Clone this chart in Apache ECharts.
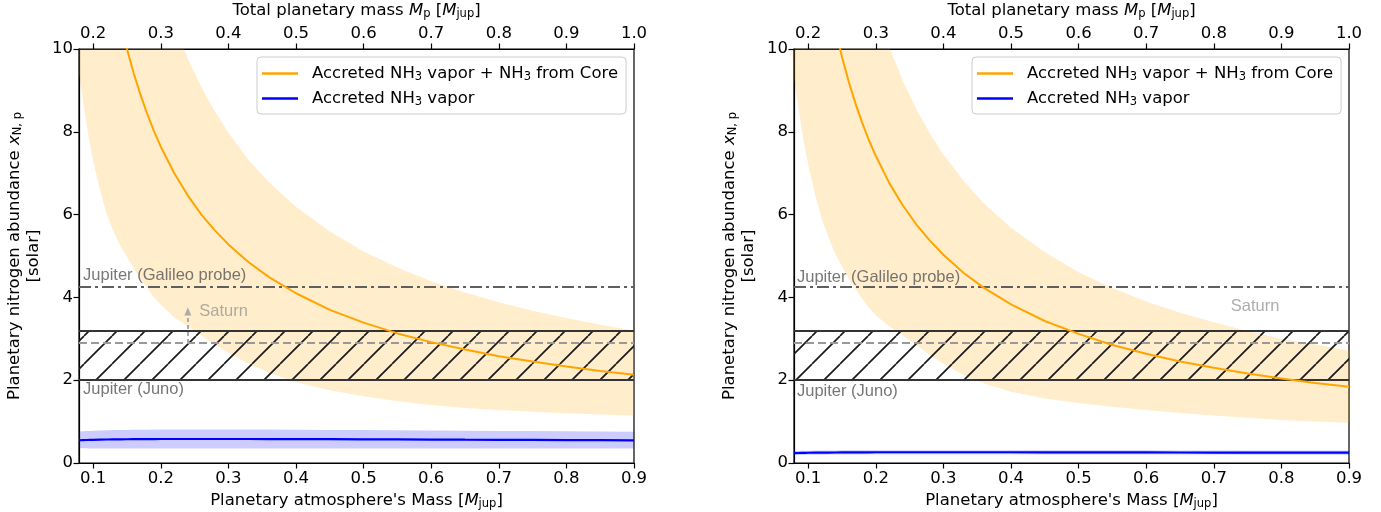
<!DOCTYPE html>
<html><head><meta charset="utf-8">
<script src="https://cdn.jsdelivr.net/npm/echarts@6/dist/echarts.min.js"></script>
<style>html,body{margin:0;padding:0;background:#fff}#c{width:1381px;height:512px}</style>
</head><body><div id="c"></div>
<script>
// ---------------- data ----------------
const xs = [0.079,0.085,0.09,0.095,0.1,0.11,0.12,0.13,0.14,0.15,0.16,0.17,0.18,0.19,0.2,0.22,0.24,0.26,0.28,0.3,0.33,0.36,0.4,0.45,0.5,0.55,0.6,0.65,0.7,0.75,0.8,0.85,0.9];
const xTicksBottom = [0.1,0.2,0.3,0.4,0.5,0.6,0.7,0.8,0.9];
const xTicksTop = [0.2,0.3,0.4,0.5,0.6,0.7,0.8,0.9,1.0];
const yTicks = [0,2,4,6,8,10];

// left panel
const leftCore      = [18.5,17.2,16.3,15.5,14.7,13.4,12.4,11.5,10.7,10.0,9.41,8.89,8.43,8.01,7.64,7.0,6.46,6.0,5.62,5.28,4.85,4.49,4.1,3.7,3.39,3.13,2.92,2.74,2.58,2.45,2.33,2.22,2.13];
const leftCoreUpper = [28.0,26.1,24.7,23.4,22.3,20.4,18.7,17.35,16.2,15.1,14.25,13.46,12.75,12.1,11.56,10.58,9.77,9.08,8.49,7.98,7.32,6.78,6.19,5.59,5.11,4.72,4.39,4.12,3.88,3.68,3.5,3.34,3.2];
const leftCoreLower = [9.4,8.75,8.2,7.72,7.3,6.6,6.0,5.6,5.25,4.98,4.7,4.45,4.22,4.0,3.82,3.52,3.3,3.08,2.86,2.66,2.4,2.18,1.95,1.76,1.61,1.49,1.4,1.33,1.28,1.24,1.2,1.17,1.15];
const leftVap       = [0.55,0.553,0.555,0.558,0.56,0.565,0.568,0.57,0.572,0.574,0.576,0.577,0.578,0.579,0.58,0.58,0.58,0.58,0.58,0.58,0.58,0.579,0.578,0.575,0.572,0.57,0.567,0.563,0.56,0.557,0.554,0.551,0.548];
const leftVapUpper  = [0.76,0.765,0.77,0.775,0.78,0.785,0.79,0.795,0.8,0.8,0.802,0.804,0.806,0.808,0.81,0.81,0.81,0.81,0.81,0.81,0.81,0.808,0.805,0.8,0.795,0.79,0.785,0.78,0.775,0.77,0.765,0.76,0.755];
const leftVapLower  = [0.36,0.357,0.355,0.352,0.35,0.35,0.35,0.35,0.35,0.35,0.35,0.35,0.35,0.35,0.35,0.35,0.35,0.35,0.35,0.35,0.35,0.35,0.35,0.35,0.35,0.35,0.35,0.35,0.35,0.35,0.35,0.35,0.35];

// right panel
const rightCore      = [18.4,17.1,16.2,15.3,14.6,13.3,12.2,11.3,10.49,9.81,9.21,8.68,8.21,7.79,7.42,6.76,6.22,5.76,5.37,5.03,4.59,4.23,3.83,3.43,3.12,2.85,2.64,2.45,2.3,2.16,2.04,1.93,1.84];
const rightCoreUpper = [27.3,25.4,24.0,22.8,21.7,19.73,18.12,16.75,15.58,14.56,13.68,12.89,12.19,11.57,11.01,10.04,9.23,8.55,7.96,7.46,6.81,6.27,5.68,5.09,4.61,4.23,3.9,3.63,3.4,3.19,3.0,2.86,2.72];
const rightCoreLower = [9.3,8.65,8.1,7.62,7.2,6.5,5.9,5.45,5.05,4.75,4.45,4.2,3.97,3.75,3.57,3.3,3.08,2.85,2.6,2.4,2.12,1.92,1.72,1.56,1.45,1.36,1.28,1.21,1.15,1.09,1.04,1.0,0.97];
const rightVap       = [0.24,0.242,0.244,0.246,0.248,0.25,0.252,0.253,0.254,0.255,0.256,0.257,0.258,0.259,0.26,0.26,0.26,0.26,0.26,0.26,0.26,0.26,0.26,0.258,0.257,0.256,0.255,0.254,0.253,0.252,0.251,0.25,0.25];
const rightVapUpper  = [0.29,0.292,0.294,0.296,0.298,0.3,0.302,0.303,0.304,0.305,0.306,0.307,0.308,0.309,0.31,0.31,0.31,0.31,0.31,0.31,0.31,0.31,0.31,0.308,0.307,0.306,0.305,0.304,0.303,0.302,0.301,0.3,0.3];
const rightVapLower  = [0.19,0.192,0.194,0.196,0.198,0.2,0.202,0.203,0.204,0.205,0.206,0.207,0.208,0.209,0.21,0.21,0.21,0.21,0.21,0.21,0.21,0.21,0.21,0.208,0.207,0.206,0.205,0.204,0.203,0.202,0.201,0.2,0.2];

// reference levels
const galileoLevel = 4.25;
const junoLow = 2.0, junoHigh = 3.2;
const saturnLevel = 2.9;
const saturnArrow = [[0.24, 2.9], [0.24, 3.66]];

// annotations [x, y, text]
const leftNotes  = [[0.085, 4.53, 'Jupiter (Galileo probe)'], [0.085, 1.77, 'Jupiter (Juno)']];
const leftSaturn = [[0.257, 3.67, 'Saturn']];
const rightNotes = [[0.0834, 4.48, 'Jupiter (Galileo probe)'], [0.0834, 1.74, 'Jupiter (Juno)']];
const rightSaturn = [[0.725, 3.78, 'Saturn']];

const NAME_CORE = 'Accreted NH3 vapor + NH3 from Core';
const NAME_VAP = 'Accreted NH3 vapor';

// ---------------- helpers ----------------
const FONT = 'DejaVu Sans';
const FS = 16.5;
const rich = {
  n: {fontSize: FS, fontFamily: FONT, color: '#000', lineHeight: 19},
  f: {fontSize: FS, fontFamily: FONT, color: '#000', lineHeight: 19, padding: [0, 0, 0, 9]},
  i: {fontSize: FS, fontFamily: FONT, fontStyle: 'italic', color: '#000', lineHeight: 19},
  s: {fontSize: 11.5, fontFamily: FONT, color: '#000', lineHeight: 11, verticalAlign: 'bottom'}
};

function makeHatch() {
  const s = 28, c = document.createElement('canvas');
  c.width = s; c.height = s;
  const g = c.getContext('2d');
  g.strokeStyle = '#1a1a1a'; g.lineWidth = 1.7;
  for (let k = -1; k <= 1; k++) {
    g.beginPath(); g.moveTo(k * s, s); g.lineTo(k * s + s, 0); g.stroke();
  }
  return c;
}
const hatch = {image: makeHatch(), repeat: 'repeat'};

const pts = arr => xs.map((x, i) => [x, arr[i]]);

function band(xi, yi, upper, lower, fill) {
  return {type: 'custom', xAxisIndex: xi, yAxisIndex: yi, silent: true, z: 1, animation: false,
    data: [[xs[0], lower[0]]],
    renderItem: (params, api) => {
      const poly = [];
      for (let i = 0; i < xs.length; i++) poly.push(api.coord([xs[i], upper[i]]));
      for (let i = xs.length - 1; i >= 0; i--) poly.push(api.coord([xs[i], lower[i]]));
      const cs = params.coordSys;
      return {type: 'group',
        clipPath: {type: 'rect', shape: {x: cs.x, y: cs.y, width: cs.width, height: cs.height}},
        children: [{type: 'polygon', shape: {points: poly}, style: {fill: fill, stroke: null}}]};
    }};
}

function panelSeries(p, d) {
  const xi = p * 2, yi = p;
  const base = {type: 'line', xAxisIndex: xi, yAxisIndex: yi, symbol: 'none', silent: true, animation: false};
  return [
    band(xi, yi, d.coreUpper, d.coreLower, 'rgba(255,165,0,0.2)'),
    band(xi, yi, d.vapUpper, d.vapLower, 'rgba(0,0,255,0.2)'),
    Object.assign({}, base, {name: NAME_CORE, data: pts(d.core), z: 6,
      color: '#FFA500', itemStyle: {color: '#FFA500'}, lineStyle: {color: '#FFA500', width: 2}}),
    Object.assign({}, base, {name: NAME_VAP, data: pts(d.vap), z: 6,
      color: '#0000FF', itemStyle: {color: '#0000FF'}, lineStyle: {color: '#0000FF', width: 2.2},
      markArea: {silent: true, z: 3, itemStyle: {color: hatch, borderWidth: 0},
        data: [[{yAxis: junoLow}, {yAxis: junoHigh}]]},
      markLine: {silent: true, symbol: ['none', 'none'], z: 4, label: {show: false}, animation: false,
        data: [
          {yAxis: junoLow, lineStyle: {color: '#333', width: 2, type: 'solid'}},
          {yAxis: junoHigh, lineStyle: {color: '#333', width: 2, type: 'solid'}},
          {yAxis: galileoLevel, lineStyle: {color: '#5f5f5f', width: 2.2, type: [12, 4, 3, 4]}},
          {yAxis: saturnLevel, lineStyle: {color: '#999', width: 2, type: [8, 4]}}
        ]}}),
    {type: 'scatter', xAxisIndex: xi, yAxisIndex: yi, symbolSize: 0, silent: true, z: 7, animation: false,
      data: d.notes, label: {show: true, position: 'right', distance: 0, formatter: q => q.value[2],
        fontFamily: 'Liberation Sans', fontSize: 16.5, color: '#555'}},
    {type: 'scatter', xAxisIndex: xi, yAxisIndex: yi, symbolSize: 0, silent: true, z: 7, animation: false,
      data: d.saturn, label: {show: true, position: 'right', distance: 0, formatter: q => q.value[2],
        fontFamily: 'Liberation Sans', fontSize: 16.5, color: '#999'},
      markLine: d.arrow ? {silent: true, symbol: ['none', 'triangle'], symbolSize: [7, 8], z: 5,
        label: {show: false}, animation: false,
        lineStyle: {color: '#aaa', width: 2, type: [4, 3]},
        data: [[{coord: d.arrow[0]}, {coord: d.arrow[1]}]]} : undefined}
  ];
}

const axisName = {
  bottom: "{n|Planetary atmosphere's Mass [}{i|M}{s|jup}{n|]}",
  top: '{n|Total planetary mass }{i|M}{s|p}{n| [}{i|M}{s|jup}{n|]}',
  left: '{n|Planetary nitrogen abundance }{i|x}{s|N, p}\n{n|[solar]}'
};

function xAxes(p) {
  const common = {type: 'value', gridIndex: p, splitLine: {show: false},
    axisLine: {show: true, onZero: false, lineStyle: {color: '#000', width: 1.2}},
    nameLocation: 'middle', nameTextStyle: {rich: rich}};
  return [
    Object.assign({}, common, {position: 'bottom', min: 0.079, max: 0.9,
      axisTick: {show: true, length: 5.5, customValues: xTicksBottom, lineStyle: {color: '#000', width: 1.2}},
      axisLabel: {customValues: xTicksBottom, formatter: v => v.toFixed(1), fontSize: FS, fontFamily: FONT, color: '#000', margin: 7},
      name: axisName.bottom, nameGap: 25}),
    Object.assign({}, common, {position: 'top', min: 0.179, max: 1.0,
      axisTick: {show: true, length: 5.5, customValues: xTicksTop, lineStyle: {color: '#000', width: 1.2}},
      axisLabel: {customValues: xTicksTop, formatter: v => v.toFixed(1), fontSize: FS, fontFamily: FONT, color: '#000', margin: 7},
      name: axisName.top, nameGap: 25})
  ];
}
function yAxis(p) {
  return {type: 'value', gridIndex: p, min: 0, max: 10, interval: 2, splitLine: {show: false},
    axisLine: {show: true, onZero: false, lineStyle: {color: '#000', width: 1.2}},
    axisTick: {show: true, length: 5.5, customValues: yTicks, lineStyle: {color: '#000', width: 1.2}},
    axisLabel: {customValues: yTicks, fontSize: FS, fontFamily: FONT, color: '#000', margin: 6},
    name: axisName.left, nameLocation: 'middle', nameGap: 36, nameRotate: 90,
    nameTextStyle: {rich: rich, align: 'center'}};
}

function legend(p, left) {
  return {show: true, left: left, top: 57, orient: 'vertical', icon: 'rect', itemWidth: 36, itemHeight: 2.5,
    itemGap: 7, padding: [8, 8, 6, 5], backgroundColor: '#fff', borderColor: '#ccc', borderWidth: 1, borderRadius: 4,
    data: [NAME_CORE, NAME_VAP], selectedMode: false,
    formatter: n => n === NAME_CORE ? '{f|Accreted NH}{s|3}{n| vapor + NH}{s|3}{n| from Core}' : '{f|Accreted NH}{s|3}{n| vapor}',
    textStyle: {rich: rich, fontSize: FS, fontFamily: FONT}};
}

const gridBase = {top: 49, width: 555, height: 414, show: true, borderColor: '#000', borderWidth: 1.2,
  containLabel: false, outerBoundsMode: 'none'};

const option = {
  animation: false,
  backgroundColor: '#fff',
  textStyle: {fontFamily: FONT},
  grid: [Object.assign({left: 79}, gridBase), Object.assign({left: 794}, gridBase)],
  xAxis: xAxes(0).concat(xAxes(1)),
  yAxis: [yAxis(0), yAxis(1)],
  legend: [legend(0, 257), legend(1, 972)],
  series: panelSeries(0, {core: leftCore, coreUpper: leftCoreUpper, coreLower: leftCoreLower,
      vap: leftVap, vapUpper: leftVapUpper, vapLower: leftVapLower,
      notes: leftNotes, saturn: leftSaturn, arrow: saturnArrow})
    .concat(panelSeries(1, {core: rightCore, coreUpper: rightCoreUpper, coreLower: rightCoreLower,
      vap: rightVap, vapUpper: rightVapUpper, vapLower: rightVapLower,
      notes: rightNotes, saturn: rightSaturn, arrow: null}))
};

const chart = echarts.init(document.getElementById('c'), null, {renderer: 'canvas'});
chart.setOption(option);
</script></body></html>
